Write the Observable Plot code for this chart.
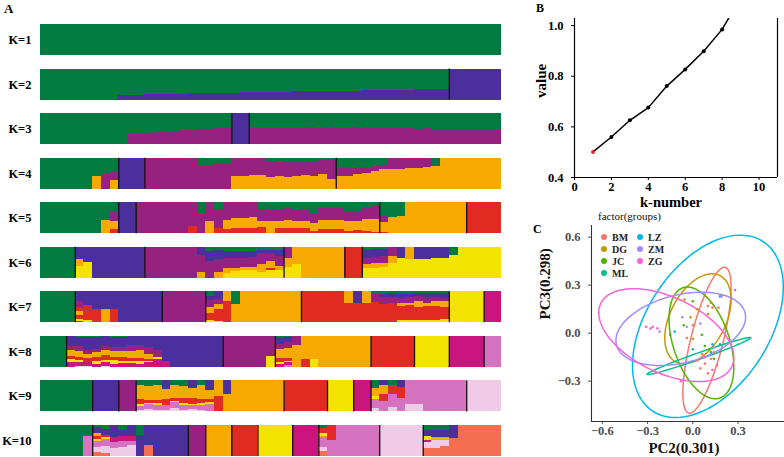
<!DOCTYPE html>
<html><head><meta charset="utf-8">
<script src="https://cdn.jsdelivr.net/npm/d3@7"></script>
<script src="https://cdn.jsdelivr.net/npm/@observablehq/plot@0.6"></script>
<style>
html,body{margin:0;padding:0;background:#fff;}
#fig{position:relative;width:784px;height:457px;overflow:hidden;background:#fff;}
.panel{position:absolute;}
</style></head><body><div id="fig"></div>
<script>
// ---------- Panel A: structure plots ----------
const kLabels = ["K=1","K=2","K=3","K=4","K=5","K=6","K=7","K=8","K=9","K=10"];
const clusterCodes  = ["G","B","P","O","R","Y","M","L","W","S"];
const clusterColors = ["#017b3f","#4b2f9d","#962180","#f6a900","#e12b22","#f4e200","#c9157d","#d673c0","#efcbe7","#f46e4f"];
// each entry: one individual, clusters listed top -> bottom with percent; "*n" repeats
const k1 = ["G*53"];
const k2 = ["G*9","G86B14","G85B15","G84B16","G83B17","G83B17","G82B18","G81B19","G81B19","G80B20","G80B20",
  "G79B21","G79B21","G78B22","G78B22","G77B23","G77B23","G76B24","G76B24","G75B25","G75B25",
  "G74B26","G74B26","G73B27","G73B27","G72B28","G72B28","G71B29","G71B29","G70B30","G70B30",
  "G69B31","G69B31","G68B32","G68B32","G67B33","G67B33","G66B34","G65B35","B*6"];
const k3 = ["G*10","G68P32","G66P34","G64P36","G62P38","G60P40","G58P42","G56P44","G54P46","G52P48","G50P50","G49P51","G47P53",
  "B*2","G45P55","G44P56","G45P55","G46P54","G45P55","G44P56","G45P55","G46P54","G47P53","G46P54",
  "G45P55","G46P54","G47P53","G48P52","G47P53","G48P52","G49P51","G48P52","G49P51","G50P50",
  "G49P51","G50P50","G50P50","G51P49","G50P50","G50P50","G50P50","G51P49","G50P50"];
const k4 = ["G*6","G60O40","G52P48","G44P27O29","B*3","P*6","G28P72","G26P74","G22P78","G20P80",
  "P60O40","P58O42","P57O43","P55O45",
  "G12P50O38","G15P45O40","G12P50O38","G10P50O40","G10P45O45","G10P48O42","G8P45O47","G5P65O30",
  "G30P30O40","G32P27O41","G30P22O48","G30P18O52","G28P15O57","G25P12O63",
  "P38O62","P35O65","P33O67","P32O68","P30O70","G28O72","O*7"];
const k5 = ["G*7","G57O43","G29P33O25R13","B*2","P*6","P76R24","G37P63","P59O41","G26P58R16",
  "P56O30R14","P50O32R18","P52O32R16","P48O34R18",
  "G24P38O18R20","G22P40O38","G22P37O25R16","G20P36O26R18","G22P38O22R18","G24P35O24R17","G35P33O24R8",
  "G18P38O30R14","G19P37O29R15","G20P38O28R14","G30P32O30R8","G28P33O30R9","G15P40O39R6","G12P42O42R4",
  "G45P20O30R5","G48O52","G46O54","O*7","R*4"];
const k6 = ["G*4","B39O24Y37","B50Y50","B*6","P*6","B25P58O17","G13B32P55","G10B28P45O17",
  "G13B22P35O15Y15","G13B24P33O8Y22","G12B23P30O10Y25","G12B22P30O10Y26",
  "G10B10P35O25Y20","G10B10P25O25R5Y25","G11B20P30O15Y24","G5P30O30Y35","O55Y45","O*5","R*2",
  "G10B25P22O13Y30","G8B24P20O15Y33","G8B22P22O12Y36","P30O22Y48","B36Y64","O40Y60",
  "B40Y60","B38Y62","B36Y64","B35Y65","G25Y75","Y*5"];
const k7 = ["G*4","B32P18R15O12R12Y8M3","B45R47Y8","B58R42","B58O42","B58R42","B*5","P*5",
  "G14B15P20O20R25Y6","B26P15O15R40Y4","O30R70","G40O60","O*7","R*5",
  "O38R62","B38R62","O38R62","G10P25R65",
  "G8B10P22R60","G6B12P20R62","G8B14P15O10R45Y8","G7B12P18O8R48Y7","G6B10P14O20R42Y8",
  "G6B14P16O12R44Y8","G5B12P15O15R45Y8","G6B14P12O18R40Y10","Y*4","M*2"];
const k8 = ["G*3","B33P12O20R10Y10M15","G4B30P15O18R10Y8M12W3","G5B40P12O15R12M12W4","G5B36P12O15R12Y10M10",
  "B32P15O15R15Y8M12W3","G5B30P15O18R10Y12M10","G5B30P15O18R12Y8M12","B30P20O20R10Y8M12",
  "B30P17O25R8Y10M10","B35P25O15R5Y5M15","B47P20Y8M25","B80M20","B*6","P*5","P65Y35",
  "G7B20P15O30R12Y8M8","G5B15P20O30R10Y5M10L5","P30O70","O73R27","O76Y24","O*6","R*5","Y*4","M*4","L*2"];
const k9 = ["G*6","B*3","P*2","G15O45R15Y8L12W5","G17O45R10Y5L15W8","G15O49R10Y6L14W6","B29O30R20L15W6",
  "G15O40R10Y5L20W10","G17O40R15Y8L15W5","B25O30R20Y5L12W8","G15O45R12Y8L14W6","B30O30R10Y5L25",
  "O50R50","B45O55","O*6","R*5","Y*3","M*2","G25O25Y10L30W10","B16O27R22L35","G16R27L43W14","B20R35L45",
  "L75W25","L75W25","L*5","W*4"];
const k10 = ["G*5","G35L65","G5B20O10R10Y5L20W18S12","G12B20R8Y6L22W22S10","B40M15L20W25","G15B20M15L20W30",
  "B35M15L15W35","G32B68","B64S36","B*4","P*2","O*3","R*3","Y*4","M*3",
  "G10R15Y10O5L30W15S15","R48L52","L*5","W*5","G15B22Y10M8W18S27","G16B22O10W27S25","G16B22O10W20S32","B43S57","S*5"];
const kRows = [k1,k2,k3,k4,k5,k6,k7,k8,k9,k10];
// population boundaries (index of first individual after a black line)
const kBounds = [[],[47],[22,24],[9,12,34],[9,11,39,49],[4,12,28,35,37],[4,14,19,30,47,51],
  [3,21,27,38,43,47,51],[6,9,11,28,33,36,38,49],[6,17,19,22,25,29,32,39,44]];

// ---------- Panel B: value by k ----------
const kNumbers = [1,2,3,4,5,6,7,8,9,10];
const kValues  = [0.501,0.56,0.626,0.676,0.761,0.827,0.899,0.985,1.11,1.25];

// ---------- Panel C: PCA ----------
const groups = ["BM","DG","JC","ML","LZ","ZM","ZG"];
const groupColors = ["#F8766D","#C49A00","#53B400","#00C094","#00B6EB","#A58AFF","#FB61D7"];
const ellCx = [0.094, 0.034, 0.057, 0.04, 0.10, -0.08, -0.176];
const ellCy = [-0.044, 0.09, -0.061, -0.143, 0.043, 0.027, -0.012];
const ellHx = [0.16, 0.22, 0.215, 0.343, 0.50, 0.43, 0.448];
const ellHy = [0.456, 0.281, 0.349, 0.116, 0.57, 0.229, 0.29];
const ellRy = [0.33, 0.12, -0.15, 0.114, 0.245, 0.073, -0.14];
const pcaGroup = ["BM","BM","BM","BM","BM","BM","BM","BM","BM","BM","BM","BM","BM",
  "DG","DG","DG","DG","DG","DG","DG",
  "JC","JC","JC","JC","JC","JC","JC",
  "ML","ML","ML",
  "LZ","LZ","LZ",
  "ZM","ZM","ZM","ZM","ZM","ZM",
  "ZG","ZG","ZG","ZG","ZG","ZG","ZG","ZG"];
const pcaX = [0.10,0.13,0.17,0.0,0.06,0.03,0.08,0.14,0.12,0.05,-0.04,0.10,0.16,
  -0.055,-0.015,0.03,0.12,0.19,0.0,0.10,
  -0.15,0.0,0.06,0.08,0.14,-0.06,0.11,
  0.12,0.0,0.18,
  -0.12,0.18,0.13,
  -0.22,-0.07,-0.04,0.19,0.14,0.05,
  -0.31,-0.28,-0.265,-0.235,-0.08,0.28,0.13,0.08];
const pcaY = [0.17,0.16,0.16,0.05,-0.13,-0.17,-0.19,-0.12,-0.16,-0.22,-0.03,-0.25,-0.20,
  0.21,0.10,0.15,0.19,0.235,-0.035,0.12,
  -0.01,0.20,-0.01,-0.08,-0.16,0.05,-0.10,
  -0.12,-0.10,-0.07,
  0.01,0.23,-0.07,
  0.01,0.10,0.04,0.23,-0.09,0.06,
  0.04,0.03,0.04,0.03,-0.30,0.27,-0.23,-0.15];

// ================= build =================
const SERIF = '"Liberation Serif","Times New Roman",serif';
const fig = document.getElementById("fig");
function place(node, left, top) {
  const d = document.createElement("div");
  d.className = "panel"; d.style.left = left + "px"; d.style.top = top + "px";
  d.appendChild(node); fig.appendChild(d);
}

const N = 53;
const colorOf = Object.fromEntries(clusterCodes.map((c, i) => [c, clusterColors[i]]));
function expand(list, K) {
  const out = []; let ind = 0;
  for (const item of list) {
    const [spec, rep] = item.split("*");
    const n = rep ? +rep : 1;
    const parts = [...spec.matchAll(/([A-Z])(\d*)/g)].map(m => [m[1], m[2] ? +m[2] : 100]);
    const tot = d3.sum(parts, p => p[1]);
    for (let r = 0; r < n; r++, ind++) parts.forEach(([c, v]) => out.push({K, ind, c, q: v / tot}));
  }
  if (ind !== N) console.warn(K, ind);
  return out;
}
const structData = kRows.flatMap((row, i) => expand(row, kLabels[i]));
const boundData = kBounds.flatMap((b, i) => b.map(ind => ({K: kLabels[i], ind})));

const A_W = 510, A_ML = 40, A_MR = 9;
const bw = (A_W - A_ML - A_MR) / N;
const chartA = Plot.plot({
  width: A_W, height: 457, marginLeft: A_ML, marginRight: A_MR, marginTop: 24, marginBottom: 1,
  x: {type: "band", domain: d3.range(N), padding: 0, round: false, axis: null},
  y: {domain: [0, 1], reverse: true, axis: null},
  fy: {domain: kLabels, paddingInner: 0.305, paddingOuter: 0, round: false, axis: "left", label: null, tickSize: 0, tickPadding: 9},
  color: {type: "identity"},
  style: {fontFamily: SERIF, fontSize: "12.5px", fontWeight: "bold", color: "#000", background: "transparent"},
  marks: [
    Plot.barY(structData, {x: "ind", y: "q", fy: "K", fill: d => colorOf[d.c], shapeRendering: "crispEdges"}),
    Plot.ruleX(boundData, {x: "ind", fy: "K", stroke: "#111", strokeWidth: 1.3, dx: -bw / 2})
  ]
});
place(chartA, 0, 0);

const bData = kNumbers.map((k, i) => ({k, v: kValues[i]}));
const chartB = Plot.plot({
  width: 254, height: 215, marginLeft: 44, marginRight: 7, marginTop: 18, marginBottom: 38,
  x: {domain: [0, 11], ticks: [0, 2, 4, 6, 8, 10], tickSize: 3, tickPadding: 2, label: null},
  y: {domain: [0.4, 1.028], ticks: [0.4, 0.6, 0.8, 1.0], tickFormat: ".1f", tickSize: 3, tickPadding: 8, label: null},
  color: {type: "identity"},
  style: {fontFamily: SERIF, fontSize: "12.5px", fontWeight: "bold", color: "#000", background: "transparent", overflow: "visible"},
  marks: [
    Plot.ruleY([0.4], {stroke: "#000", strokeWidth: 1.2}),
    Plot.ruleX([0, 11], {stroke: "#000", strokeWidth: 1.2}),
    Plot.line(bData, {x: "k", y: "v", stroke: "#000", strokeWidth: 1.5, clip: true}),
    Plot.dot(bData, {x: "k", y: "v", r: 2, fill: (d, i) => i === 0 ? "#e8262a" : "#000", clip: true}),
    Plot.text(["k-number"], {frameAnchor: "bottom", dy: 25, dx: -5, fontSize: 14.5, lineAnchor: "middle"}),
    Plot.text(["value"], {frameAnchor: "left", dx: -33, rotate: -90, fontSize: 15})
  ]
});
place(chartB, 530, 0);

const ellData = groups.flatMap((g, i) => {
  const s = Math.sqrt(Math.max(0, ellHy[i] ** 2 - ellRy[i] ** 2));
  return d3.range(0, 360, 3).map(deg => {
    const t = deg * Math.PI / 180;
    return {group: g, x: ellCx[i] + ellHx[i] * Math.cos(t), y: ellCy[i] + ellRy[i] * Math.cos(t) + s * Math.sin(t)};
  });
});
const pcaData = pcaGroup.map((g, i) => ({group: g, x: pcaX[i], y: pcaY[i]}));
const chartC = Plot.plot({
  width: 264, height: 252, marginLeft: 71, marginRight: 0, marginTop: 20, marginBottom: 36,
  x: {domain: [-0.672, 0.608], ticks: [-0.6, -0.3, 0, 0.3], tickFormat: ".1f", tickSize: 3, tickPadding: 2, label: null},
  y: {domain: [-0.552, 0.673], ticks: [-0.3, 0, 0.3, 0.6], tickFormat: ".1f", tickSize: 3, tickPadding: 8, label: null},
  color: {domain: groups, range: groupColors},
  style: {fontFamily: SERIF, fontSize: "12.5px", fontWeight: "bold", color: "#4d4d4d", background: "transparent", overflow: "visible"},
  marks: [
    Plot.line(ellData, {x: "x", y: "y", z: "group", stroke: "group", curve: "linear-closed", strokeWidth: 1.5, clip: true}),
    Plot.dot(pcaData, {x: "x", y: "y", fill: "group", r: 1.3, clip: true}),
    Plot.ruleX([-0.672], {stroke: "#333", strokeWidth: 1.1}),
    Plot.ruleY([-0.552], {stroke: "#333", strokeWidth: 1.1}),
    Plot.text(["PC2(0.301)"], {frameAnchor: "bottom", dy: 27, dx: -4, fontSize: 15, fill: "#111", lineAnchor: "middle"}),
    Plot.text(["PC3(0.298)"], {frameAnchor: "left", dx: -46, dy: -4, rotate: -90, fontSize: 15, fill: "#111"})
  ]
});
place(chartC, 520, 205);

// ---------- overlay: panel letters and legend ----------
const ov = d3.create("svg").attr("width", 784).attr("height", 457)
  .style("font-family", SERIF).style("pointer-events", "none");
ov.append("text").attr("x", 4).attr("y", 13).attr("font-weight", "bold").attr("font-size", 13).text("A");
ov.append("text").attr("x", 536).attr("y", 12).attr("font-weight", "bold").attr("font-size", 12).text("B");
ov.append("text").attr("x", 533).attr("y", 233).attr("font-weight", "bold").attr("font-size", 12).text("C");
ov.append("text").attr("x", 598).attr("y", 220).attr("font-size", 11).attr("fill", "#111").text("factor(groups)");
const cScale = chartC.scale("color");
cScale.domain.forEach((g, i) => {
  const col = i < 4 ? 0 : 1, row = i < 4 ? i : i - 4;
  const cx = col === 0 ? 604 : 640, cy = 237 + row * 12;
  ov.append("circle").attr("cx", cx).attr("cy", cy).attr("r", 3).attr("fill", cScale.range[i]);
  ov.append("text").attr("x", cx + 8).attr("y", cy + 3.5).attr("font-size", 10).attr("font-weight", "bold")
    .attr("fill", "#222").text(g);
});
place(ov.node(), 0, 0);
</script></body></html>
